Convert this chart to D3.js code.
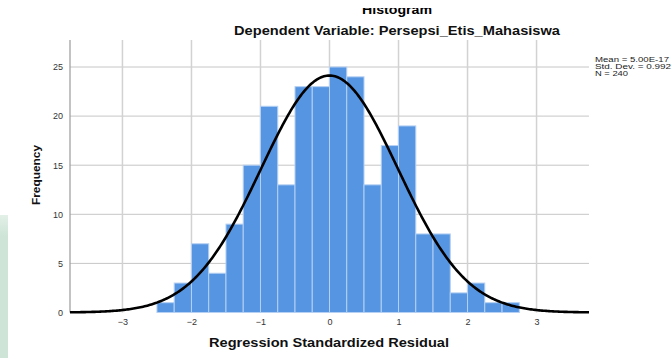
<!DOCTYPE html>
<html>
<head>
<meta charset="utf-8">
<script src="https://cdn.jsdelivr.net/npm/d3@7"></script>
<style>
	body { margin: 0; background: #fff; }
	svg { display: block; font-family: "Liberation Sans", Arial, sans-serif; }
</style>
</head>
<body>
<svg id="chart"></svg>
<script>
// bins of 0.25 standardized residual, left edges
var binStarts = [-2.5, -2.25, -2.0, -1.75, -1.5, -1.25, -1.0, -0.75, -0.5, -0.25, 0, 0.25, 0.5, 0.75, 1.0, 1.25, 1.5, 1.75, 2.0, 2.25, 2.5];
var counts = [1, 3, 7, 4, 9, 15, 21, 13, 23, 23, 25, 24, 13, 17, 19, 8, 8, 2, 3, 1, 1];
var binWidth = 0.25;
var xTicks = [-3, -2, -1, 0, 1, 2, 3];
var yTicks = [0, 5, 10, 15, 20, 25];
var stats = { mean: 5.00e-17, sd: 0.992, n: 240 };
var statLabels = ["Mean = 5.00E-17", "Std. Dev. = 0.992", "N = 240"];
var statWidths = [74, 76, 33];

var width = 672, height = 358;
var svg = d3.select("#chart").attr("width", width).attr("height", height);

var x = d3.scaleLinear().domain([-3.76, 3.76]).range([70, 589]);
var y = d3.scaleLinear().domain([0, 27.75]).range([312.5, 40]);

var defs = svg.append("defs");

// pale green strip on the left edge
var grad = defs.append("linearGradient")
	.attr("id", "strip").attr("gradientTransform", "rotate(90)");
grad.append("stop").attr("offset", "0%").attr("stop-color", "#e3f0e8");
grad.append("stop").attr("offset", "15%").attr("stop-color", "#cde4d6");
grad.append("stop").attr("offset", "100%").attr("stop-color", "#cde4d6");
svg.append("rect").attr("x", 0).attr("y", 215).attr("width", 8).attr("height", height - 215)
	.attr("fill", "url(#strip)");

// horizontal grid
svg.append("g").selectAll("line").data(yTicks.filter(function(d) { return d > 0; })).enter()
	.append("line")
	.attr("x1", x.range()[0]).attr("x2", x.range()[1])
	.attr("y1", function(d) { return y(d); }).attr("y2", function(d) { return y(d); })
	.attr("stroke", "#c6c6c6").attr("stroke-width", 1);

// vertical grid
svg.append("g").selectAll("line").data(xTicks).enter()
	.append("line")
	.attr("x1", function(d) { return x(d); }).attr("x2", function(d) { return x(d); })
	.attr("y1", y.range()[1]).attr("y2", y(0))
	.attr("stroke", "#d2d2d2").attr("stroke-width", 1.5);

// bars
svg.append("g").selectAll("rect").data(counts).enter()
	.append("rect")
	.attr("x", function(d, i) { return x(binStarts[i]); })
	.attr("width", function(d, i) { return x(binStarts[i] + binWidth) - x(binStarts[i]); })
	.attr("y", function(d) { return y(d); })
	.attr("height", function(d) { return y(0) - y(d); })
	.attr("fill", "#5595e2")
	.attr("stroke", "#b5d0f2")
	.attr("stroke-width", 1);

// left axis line
svg.append("line")
	.attr("x1", 70).attr("x2", 70)
	.attr("y1", y.range()[1]).attr("y2", y(0))
	.attr("stroke", "#9a9a9a").attr("stroke-width", 1.2);

// normal curve from the stated mean / sd / n
var curvePts = d3.range(x.domain()[0], x.domain()[1] + 0.001, 0.02);
var peak = stats.n * binWidth / (stats.sd * Math.sqrt(2 * Math.PI));
var line = d3.line()
	.x(function(d) { return x(d); })
	.y(function(d) { var z = (d - stats.mean) / stats.sd; return y(peak * Math.exp(-0.5 * z * z)); });
svg.append("path").datum(curvePts)
	.attr("d", line)
	.attr("fill", "none")
	.attr("stroke", "#000")
	.attr("stroke-width", 2.6);

// axes (labels only)
var yAxis = svg.append("g")
	.attr("transform", "translate(70,0)")
	.call(d3.axisLeft(y).tickValues(yTicks).tickSize(0).tickPadding(7));
var xAxis = svg.append("g")
	.attr("transform", "translate(0," + y(0) + ")")
	.call(d3.axisBottom(x).tickValues(xTicks).tickSize(0).tickPadding(6));
[yAxis, xAxis].forEach(function(a) {
	a.select(".domain").remove();
	a.selectAll("text").attr("font-size", 9).attr("fill", "#333")
		.attr("font-family", "'Liberation Sans', Arial, sans-serif");
});

// titles
defs.append("clipPath").attr("id", "topclip")
	.append("rect").attr("x", 0).attr("y", 8).attr("width", width).attr("height", 20);
svg.append("text")
	.attr("x", 397).attr("y", 13.5)
	.attr("text-anchor", "middle").attr("font-weight", "bold").attr("font-size", 12.5)
	.attr("textLength", 70).attr("lengthAdjust", "spacingAndGlyphs")
	.attr("clip-path", "url(#topclip)")
	.text("Histogram");
svg.append("text")
	.attr("x", 397).attr("y", 35)
	.attr("text-anchor", "middle").attr("font-weight", "bold").attr("font-size", 12.5)
	.attr("textLength", 326).attr("lengthAdjust", "spacingAndGlyphs")
	.attr("fill", "#111")
	.text("Dependent Variable: Persepsi_Etis_Mahasiswa");

svg.append("text")
	.attr("x", 329).attr("y", 346.5)
	.attr("text-anchor", "middle").attr("font-weight", "bold").attr("font-size", 13)
	.attr("textLength", 240).attr("lengthAdjust", "spacingAndGlyphs")
	.attr("fill", "#111")
	.text("Regression Standardized Residual");

svg.append("text")
	.attr("transform", "translate(40,175) rotate(-90)")
	.attr("text-anchor", "middle").attr("font-weight", "bold").attr("font-size", 11)
	.attr("textLength", 60).attr("lengthAdjust", "spacingAndGlyphs")
	.attr("fill", "#111")
	.text("Frequency");

// stats box
svg.append("g").selectAll("text").data(statLabels).enter()
	.append("text")
	.attr("x", 595)
	.attr("y", function(d, i) { return 61.5 + i * 7; })
	.attr("font-size", 7)
	.attr("textLength", function(d, i) { return statWidths[i]; })
	.attr("lengthAdjust", "spacingAndGlyphs")
	.attr("fill", "#222")
	.text(function(d) { return d; });
</script>
</body>
</html>
